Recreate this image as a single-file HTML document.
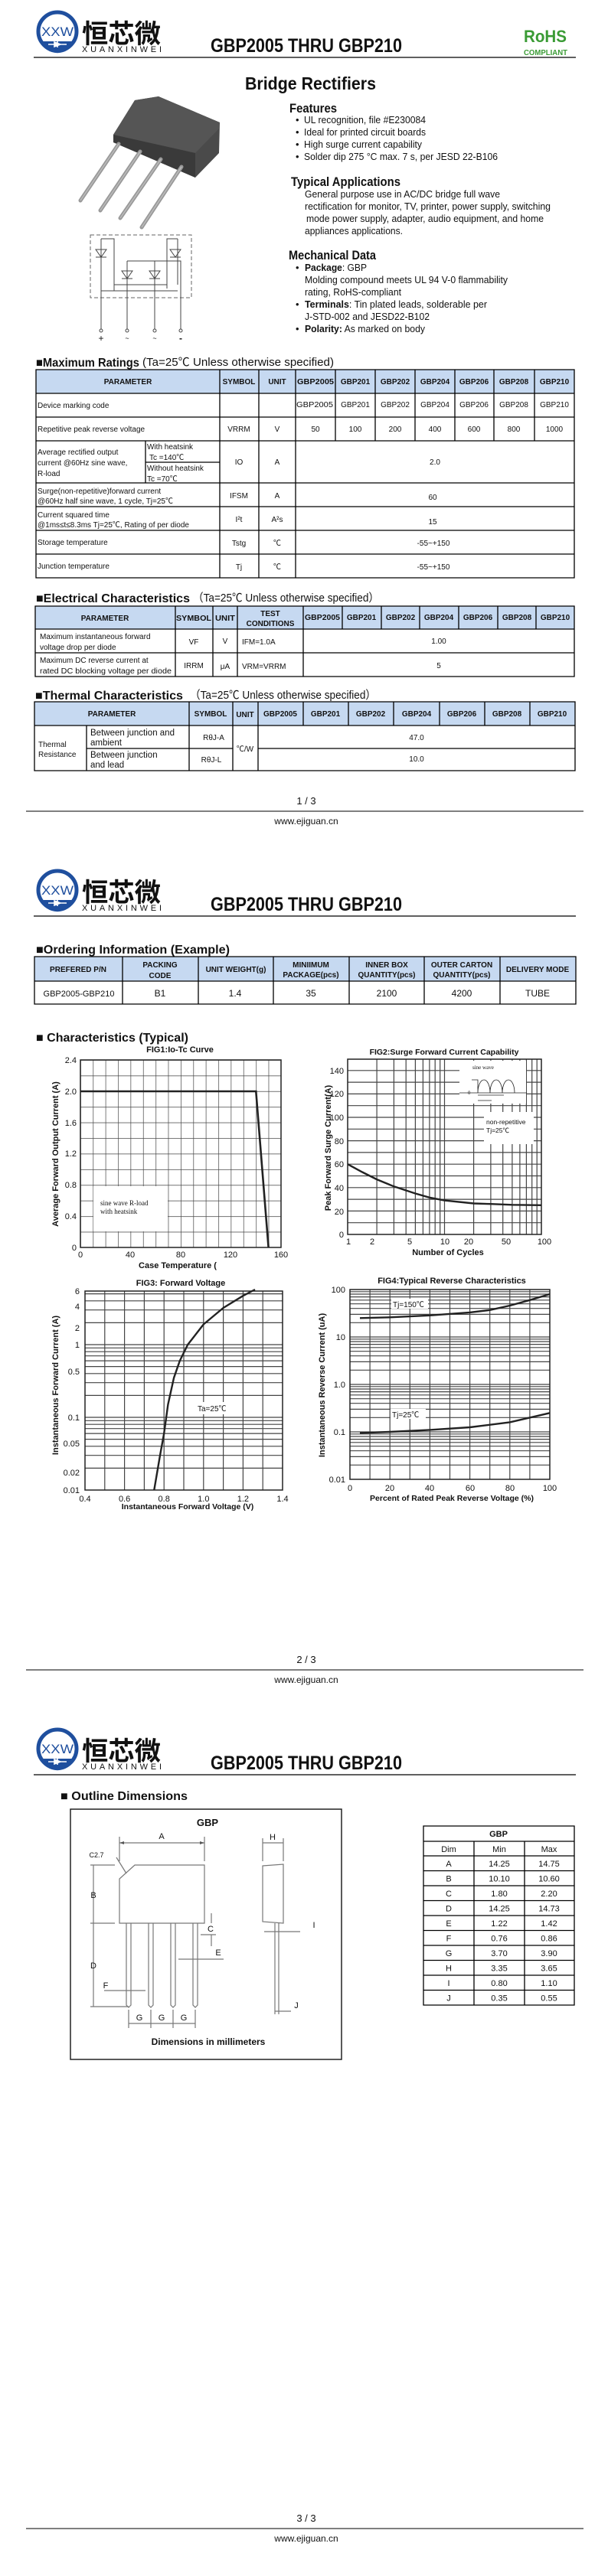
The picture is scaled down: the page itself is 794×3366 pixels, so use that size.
<!DOCTYPE html>
<html><head><meta charset="utf-8"><style>
html,body{margin:0;padding:0;background:#fff;}
svg{display:block}
text{font-family:"Liberation Sans","Noto Sans CJK SC",sans-serif;fill:#111}
.b{font-weight:bold}
.c{text-anchor:middle}
.r{text-anchor:end}
.t{font-size:10px}
.h{font-size:10px;font-weight:bold;text-anchor:middle}
.g{stroke:#444;stroke-width:1.2;fill:none}
.k{stroke:#000;stroke-width:1.3;fill:none}
.ax{font-size:11px}
.dw{stroke:#777;stroke-width:1.2;fill:none}
.ser{font-family:"Liberation Serif",serif}
</style></head><body>
<svg width="794" height="3366" viewBox="0 0 794 3366" xmlns="http://www.w3.org/2000/svg">
<defs>
<pattern id="g1" x="105" y="1385" width="16.375" height="20.417" patternUnits="userSpaceOnUse">
<path d="M0 0V20.417M0 0H16.375" stroke="#444" stroke-width="1.4" fill="none"/>
</pattern>
</defs>

<!-- ===== HEADER PAGE 1 ===== -->
<g>
<circle cx="75" cy="41" r="25" fill="none" stroke="#1f4f9e" stroke-width="5"/>
<path d="M52 54 A25 25 0 0 0 98 54 Z" fill="#1f4f9e"/>
<path d="M63 58H87M75 54V62M71 55L79 58L71 61Z" stroke="#fff" stroke-width="1.6" fill="#fff"/>
<text x="75" y="47" class="c" style="font-size:17px;fill:#1f4f9e" textLength="42" lengthAdjust="spacingAndGlyphs">XXW</text>
<text x="107" y="56" class="b" style="font-size:34px;font-family:'Noto Sans CJK SC',sans-serif" textLength="103" lengthAdjust="spacingAndGlyphs">恒芯微</text>
<text x="107" y="68" style="font-size:11px" textLength="104" lengthAdjust="spacing">XUANXINWEI</text>
<text x="275" y="68" class="b" style="font-size:25px" textLength="250" lengthAdjust="spacingAndGlyphs">GBP2005 THRU GBP210</text>
<text x="684" y="55" class="b" style="font-size:22px;fill:#3a9b35" textLength="56" lengthAdjust="spacingAndGlyphs">RoHS</text>
<text x="684" y="72" class="b" style="font-size:10px;fill:#3a9b35" textLength="57" lengthAdjust="spacingAndGlyphs">COMPLIANT</text>
<path d="M44 75H752" stroke="#000" stroke-width="1.2"/>
</g>

<text x="320" y="117" class="b" style="font-size:23px" textLength="171" lengthAdjust="spacingAndGlyphs">Bridge Rectifiers</text>

<!-- package drawing -->
<polygon points="176,131 207,126 287,160 286,200 255,232 148,186 148,176" fill="#4a4a4a"/>
<polygon points="148,176 176,131 207,126 287,160 286,168 255,200 148,176" fill="#555"/>
<polygon points="148,176 255,200 255,232 148,186" fill="#3a3a3a"/>
<g stroke="#999" stroke-width="5" stroke-linecap="round">
<path d="M155 188L105 262M183 198L131 275M210 208L157 285M237 218L185 297"/>
</g>
<g stroke="#bbb" stroke-width="1.5"><path d="M155 188L105 262M183 198L131 275M210 208L157 285M237 218L185 297"/></g>

<!-- schematic -->
<rect x="118" y="307" width="132" height="82" fill="none" stroke="#666" stroke-width="1" stroke-dasharray="5,3"/>
<g stroke="#444" stroke-width="1" fill="none">
<path d="M132 312H149V380M132 312V430M232 312H218V377M232 312V372M166 341H236V430M166 341V430M202 341V430M132 380H232M149 372H218"/>
<path d="M125 326H139L132 336Z M125 336H139 M222 326H236L229 336Z M222 336H236 M159 354H173L166 364Z M159 364H173 M195 354H209L202 364Z M195 364H209"/>
<circle cx="132" cy="432" r="2"/><circle cx="166" cy="432" r="2"/><circle cx="202" cy="432" r="2"/><circle cx="236" cy="432" r="2"/>
</g>
<text x="132" y="446" class="c" style="font-size:12px">+</text>
<text x="166" y="445" class="c" style="font-size:9px">~</text>
<text x="202" y="445" class="c" style="font-size:9px">~</text>
<text x="236" y="446" class="c b" style="font-size:12px">-</text>

<!-- features -->
<text x="378" y="147" class="b" style="font-size:17px" textLength="62" lengthAdjust="spacingAndGlyphs">Features</text>
<g style="font-size:13px">
<text x="386" y="161">•</text><text x="397" y="161" textLength="159" lengthAdjust="spacingAndGlyphs">UL recognition, file #E230084</text>
<text x="386" y="177">•</text><text x="397" y="177" textLength="159" lengthAdjust="spacingAndGlyphs">Ideal for printed circuit boards</text>
<text x="386" y="193">•</text><text x="397" y="193" textLength="154" lengthAdjust="spacingAndGlyphs">High surge current capability</text>
<text x="386" y="209">•</text><text x="397" y="209" textLength="253" lengthAdjust="spacingAndGlyphs">Solder dip 275 °C max. 7 s, per JESD 22-B106</text>
</g>
<text x="380" y="243" class="b" style="font-size:17px" textLength="143" lengthAdjust="spacingAndGlyphs">Typical Applications</text>
<g style="font-size:13px">
<text x="398" y="258" textLength="255" lengthAdjust="spacingAndGlyphs">General purpose use in AC/DC bridge full wave</text>
<text x="398" y="274" textLength="321" lengthAdjust="spacingAndGlyphs">rectification for monitor, TV, printer, power supply, switching</text>
<text x="400" y="290" textLength="310" lengthAdjust="spacingAndGlyphs">mode power supply, adapter, audio equipment, and home</text>
<text x="398" y="306" textLength="128" lengthAdjust="spacingAndGlyphs">appliances applications.</text>
</g>
<text x="377" y="339" class="b" style="font-size:17px" textLength="114" lengthAdjust="spacingAndGlyphs">Mechanical Data</text>
<g style="font-size:13px">
<text x="386" y="354">•</text><text x="398" y="354" textLength="81" lengthAdjust="spacingAndGlyphs"><tspan class="b">Package</tspan>: GBP</text>
<text x="398" y="370" textLength="265" lengthAdjust="spacingAndGlyphs">Molding compound meets UL 94 V-0 flammability</text>
<text x="398" y="386" textLength="126" lengthAdjust="spacingAndGlyphs">rating, RoHS-compliant</text>
<text x="386" y="402">•</text><text x="398" y="402" textLength="238" lengthAdjust="spacingAndGlyphs"><tspan class="b">Terminals</tspan>: Tin plated leads, solderable  per</text>
<text x="398" y="418" textLength="163" lengthAdjust="spacingAndGlyphs">J-STD-002 and JESD22-B102</text>
<text x="386" y="434">•</text><text x="398" y="434" textLength="157" lengthAdjust="spacingAndGlyphs"><tspan class="b">Polarity:</tspan> As marked on body</text>
</g>

<!-- ===== MAX RATINGS ===== -->
<text x="47" y="479" class="b" style="font-size:16px" textLength="135" lengthAdjust="spacingAndGlyphs">■Maximum Ratings</text>
<text x="186" y="478" style="font-size:15px" textLength="250" lengthAdjust="spacingAndGlyphs">(Ta=25℃ Unless otherwise specified)</text>
<rect x="47" y="483" width="703" height="31" fill="#c6d9f1"/>
<path class="k" d="M47 483H750V755H47Z M47 514H750M47 545H750M47 576H750M47 631H750M47 662H750M47 693H750M47 724H750 M190 604H287 M287 483V755M338 483V755M386 483V755 M438 483V576M490 483V576M542 483V576M594 483V576M645 483V576M698 483V576 M190 576V631"/>
<g class="h">
<text x="167" y="502">PARAMETER</text><text x="312" y="502">SYMBOL</text><text x="362" y="502">UNIT</text>
<text x="412" y="502" textLength="48" lengthAdjust="spacingAndGlyphs">GBP2005</text><text x="464" y="502">GBP201</text><text x="516" y="502">GBP202</text><text x="568" y="502">GBP204</text><text x="619" y="502">GBP206</text><text x="671" y="502">GBP208</text><text x="724" y="502">GBP210</text>
</g>
<g class="t">
<text x="49" y="533">Device marking code</text>
<g class="c"><text x="411" y="532" textLength="48" lengthAdjust="spacingAndGlyphs">GBP2005</text><text x="464" y="532">GBP201</text><text x="516" y="532">GBP202</text><text x="568" y="532">GBP204</text><text x="619" y="532">GBP206</text><text x="671" y="532">GBP208</text><text x="724" y="532">GBP210</text></g>
<text x="49" y="564">Repetitive peak reverse voltage</text>
<g class="c"><text x="312" y="564">VRRM</text><text x="362" y="564">V</text><text x="412" y="564">50</text><text x="464" y="564">100</text><text x="516" y="564">200</text><text x="568" y="564">400</text><text x="619" y="564">600</text><text x="671" y="564">800</text><text x="724" y="564">1000</text></g>
<text x="49" y="594">Average rectified output</text><text x="49" y="608">current @60Hz sine wave,</text><text x="49" y="622">R-load</text>
<text x="192" y="587">With heatsink</text><text x="195" y="601">Tc =140℃</text><text x="192" y="615">Without heatsink</text><text x="192" y="629">Tc =70℃</text>
<g class="c"><text x="312" y="607">IO</text><text x="362" y="607">A</text><text x="568" y="607">2.0</text></g>
<text x="49" y="645">Surge(non-repetitive)forward current</text><text x="49" y="658">@60Hz half sine wave, 1 cycle, Tj=25℃</text>
<g class="c"><text x="312" y="651">IFSM</text><text x="362" y="651">A</text><text x="565" y="653">60</text></g>
<text x="49" y="676">Current squared time</text><text x="49" y="689">@1ms≤t≤8.3ms Tj=25℃, Rating of per diode</text>
<g class="c"><text x="312" y="682">I²t</text><text x="362" y="682">A²s</text><text x="565" y="685">15</text></g>
<text x="49" y="712">Storage temperature</text>
<g class="c"><text x="312" y="713">Tstg</text><text x="362" y="713">℃</text><text x="566" y="713">-55~+150</text></g>
<text x="49" y="743">Junction temperature</text>
<g class="c"><text x="312" y="744">Tj</text><text x="362" y="744">℃</text><text x="566" y="744">-55~+150</text></g>
</g>

<!-- ===== ELECTRICAL ===== -->
<text x="47" y="787" class="b" style="font-size:16px" textLength="201" lengthAdjust="spacingAndGlyphs">■Electrical Characteristics</text>
<text x="252" y="786" style="font-size:15px" textLength="243" lengthAdjust="spacingAndGlyphs">（Ta=25℃ Unless otherwise specified）</text>
<rect x="46" y="792" width="704" height="30" fill="#c6d9f1"/>
<path class="k" d="M46 792H750V884H46Z M46 822H750M46 853H750 M229 792V884M278 792V884M310 792V884M396 792V884 M447 792V822M498 792V822M548 792V822M599 792V822M650 792V822M700 792V822"/>
<g class="h">
<text x="137" y="811">PARAMETER</text><text x="253" y="811" textLength="46" lengthAdjust="spacingAndGlyphs">SYMBOL</text><text x="294" y="811" textLength="26" lengthAdjust="spacingAndGlyphs">UNIT</text>
<text x="353" y="805">TEST</text><text x="353" y="818">CONDITIONS</text>
<text x="421" y="810" textLength="46" lengthAdjust="spacingAndGlyphs">GBP2005</text><text x="472" y="810">GBP201</text><text x="523" y="810">GBP202</text><text x="573" y="810">GBP204</text><text x="624" y="810">GBP206</text><text x="675" y="810">GBP208</text><text x="725" y="810">GBP210</text>
</g>
<g class="t">
<text x="52" y="835">Maximum instantaneous forward</text><text x="52" y="849">voltage drop per diode</text>
<g class="c"><text x="253" y="842">VF</text><text x="294" y="841">V</text><text x="573" y="841">1.00</text></g>
<text x="316" y="842">IFM=1.0A</text>
<text x="52" y="866">Maximum DC reverse current at</text><text x="52" y="880" textLength="172" lengthAdjust="spacingAndGlyphs">rated DC blocking voltage per diode</text>
<g class="c"><text x="253" y="873">IRRM</text><text x="294" y="874">μA</text><text x="573" y="873">5</text></g>
<text x="316" y="874">VRM=VRRM</text>
</g>

<!-- ===== THERMAL ===== -->
<text x="46" y="914" class="b" style="font-size:16px" textLength="193" lengthAdjust="spacingAndGlyphs">■Thermal Characteristics</text>
<text x="248" y="913" style="font-size:15px" textLength="243" lengthAdjust="spacingAndGlyphs">（Ta=25℃ Unless otherwise specified）</text>
<rect x="45" y="917" width="706" height="31" fill="#c6d9f1"/>
<path class="k" d="M45 917H751V1007H45Z M45 948H751 M113 978H304M337 978H751 M113 948V1007M247 917V1007M304 917V1007M337 917V1007 M396 917V948M455 917V948M514 917V948M574 917V948M633 917V948M692 917V948"/>
<g class="h">
<text x="146" y="936">PARAMETER</text><text x="275" y="936">SYMBOL</text><text x="320" y="937">UNIT</text>
<text x="366" y="936">GBP2005</text><text x="425" y="936">GBP201</text><text x="484" y="936">GBP202</text><text x="544" y="936">GBP204</text><text x="603" y="936">GBP206</text><text x="662" y="936">GBP208</text><text x="721" y="936">GBP210</text>
</g>
<g class="t">
<text x="50" y="976">Thermal</text><text x="50" y="989">Resistance</text>
<text x="118" y="961" style="font-size:11.5px">Between junction and</text><text x="118" y="974" style="font-size:11.5px">ambient</text>
<text x="118" y="990" style="font-size:11.5px">Between junction</text><text x="118" y="1003" style="font-size:11.5px">and lead</text>
<g class="c"><text x="279" y="967">RθJ-A</text><text x="276" y="996">RθJ-L</text><text x="320" y="982">℃/W</text><text x="544" y="967">47.0</text><text x="544" y="995">10.0</text></g>
</g>

<text x="400" y="1051" class="c" style="font-size:13px">1 / 3</text>
<path d="M34 1060H762" stroke="#555" stroke-width="1.5"/>
<text x="400" y="1077" class="c" style="font-size:12px">www.ejiguan.cn</text>

<!-- ===== PAGE 2 HEADER ===== -->
<g transform="translate(0,1122)">
<circle cx="75" cy="41" r="25" fill="none" stroke="#1f4f9e" stroke-width="5"/>
<path d="M52 54 A25 25 0 0 0 98 54 Z" fill="#1f4f9e"/>
<path d="M63 58H87M75 54V62M71 55L79 58L71 61Z" stroke="#fff" stroke-width="1.6" fill="#fff"/>
<text x="75" y="47" class="c" style="font-size:17px;fill:#1f4f9e" textLength="42" lengthAdjust="spacingAndGlyphs">XXW</text>
<text x="107" y="56" class="b" style="font-size:34px;font-family:'Noto Sans CJK SC',sans-serif" textLength="103" lengthAdjust="spacingAndGlyphs">恒芯微</text>
<text x="107" y="68" style="font-size:11px" textLength="104" lengthAdjust="spacing">XUANXINWEI</text>
<text x="275" y="68" class="b" style="font-size:25px" textLength="250" lengthAdjust="spacingAndGlyphs">GBP2005 THRU GBP210</text>
<path d="M44 75H752" stroke="#000" stroke-width="1.2"/>
</g>

<text x="47" y="1246" class="b" style="font-size:16px" textLength="253" lengthAdjust="spacingAndGlyphs">■Ordering Information (Example)</text>
<rect x="45" y="1250" width="707" height="32" fill="#c6d9f1"/>
<path class="k" d="M45 1250H752V1312H45Z M45 1282H752 M160 1250V1312M259 1250V1312M357 1250V1312M456 1250V1312M554 1250V1312M653 1250V1312"/>
<g class="h">
<text x="102" y="1270">PREFERED P/N</text>
<text x="209" y="1264">PACKING</text><text x="209" y="1278">CODE</text>
<text x="308" y="1270">UNIT WEIGHT(g)</text>
<text x="406" y="1264">MINIIMUM</text><text x="406" y="1277">PACKAGE(pcs)</text>
<text x="505" y="1264">INNER BOX</text><text x="505" y="1277">QUANTITY(pcs)</text>
<text x="603" y="1264">OUTER CARTON</text><text x="603" y="1277">QUANTITY(pcs)</text>
<text x="702" y="1270">DELIVERY MODE</text>
</g>
<g class="c" style="font-size:12px">
<text x="103" y="1302" style="font-size:11px">GBP2005-GBP210</text><text x="209" y="1302">B1</text><text x="307" y="1302">1.4</text><text x="406" y="1302">35</text><text x="505" y="1302">2100</text><text x="603" y="1302">4200</text><text x="702" y="1302">TUBE</text>
</g>
<text x="47" y="1361" class="b" style="font-size:16px" textLength="199" lengthAdjust="spacingAndGlyphs">■ Characteristics (Typical)</text>

<!-- FIG1 -->
<text x="235" y="1375" class="c b ax">FIG1:Io-Tc Curve</text>
<rect x="105" y="1385" width="262" height="245" fill="url(#g1)"/>
<rect x="105" y="1385" width="262" height="245" fill="none" stroke="#222" stroke-width="1.5"/>
<rect x="122" y="1550" width="97" height="59" fill="#fff"/>
<text x="131" y="1575" class="ser" style="font-size:9px">sine wave R-load</text>
<text x="131" y="1586" class="ser" style="font-size:9px">with heatsink</text>
<path d="M105 1426H334.3L350.6 1630" stroke="#222" stroke-width="2.6" fill="none"/>
<g class="ax r">
<text x="100" y="1389">2.4</text><text x="100" y="1430">2.0</text><text x="100" y="1471">1.6</text><text x="100" y="1511">1.2</text><text x="100" y="1552">0.8</text><text x="100" y="1593">0.4</text><text x="100" y="1634">0</text>
</g>
<g class="ax c">
<text x="105" y="1643">0</text><text x="170" y="1643">40</text><text x="236" y="1643">80</text><text x="301" y="1643">120</text><text x="367" y="1643">160</text>
</g>
<text x="232" y="1657" class="c b ax">Case Temperature (</text>
<text transform="translate(76,1508) rotate(-90)" class="c b ax">Average Forward Output Current (A)</text>

<!-- FIG2 -->
<text x="580" y="1378" class="c b" style="font-size:10.5px">FIG2:Surge Forward Current Capability</text>
<path class="g" d="M454 1597.7H707M454 1582.4H707M454 1567.1H707M454 1551.8H707M454 1536.5H707M454 1521.2H707M454 1505.9H707M454 1490.6H707M454 1475.3H707M454 1460H707M454 1444.7H707M454 1429.4H707M454 1414.1H707M454 1398.8H707
M492.1 1384V1613M514.4 1384V1613M530.2 1384V1613M542.4 1384V1613M552.4 1384V1613M560.9 1384V1613M568.2 1384V1613M574.7 1384V1613M580.5 1384V1613M618.6 1384V1613M640.9 1384V1613M656.7 1384V1613M668.9 1384V1613M678.9 1384V1613M687.4 1384V1613M694.7 1384V1613M701.2 1384V1613"/>
<rect x="600" y="1386" width="87" height="56" fill="#fff"/>
<rect x="632" y="1453" width="65" height="42" fill="#fff"/>
<text x="617" y="1397" class="ser" style="font-size:7px">sine  wave</text>
<path d="M600 1428H688M616 1411H624V1428M624 1428A8 17 0 0 1 640 1428A8 17 0 0 1 656 1428A8 17 0 0 1 672 1428M624 1431H658M624 1438H642" stroke="#222" stroke-width="0.8" fill="none"/>
<text x="611" y="1430" style="font-size:6px">0</text>
<text x="635" y="1469" style="font-size:8.5px">non-repetitive</text>
<text x="635" y="1480" style="font-size:8.5px">Tj=25℃</text>
<rect x="454" y="1384" width="253" height="229" fill="none" stroke="#222" stroke-width="1.5"/>
<path d="M454 1521.2L473 1531.5L492.1 1541.1L514.4 1550.3L542.4 1559.5L560.9 1564.8L580.5 1568.6L618.6 1572.5L640.9 1573.2L668.9 1574.3L707 1574.8" stroke="#222" stroke-width="2.4" fill="none"/>
<g class="ax r">
<text x="449" y="1617">0</text><text x="449" y="1587">20</text><text x="449" y="1556">40</text><text x="449" y="1525">60</text><text x="449" y="1495">80</text><text x="449" y="1464">100</text><text x="449" y="1433">120</text><text x="449" y="1403">140</text>
</g>
<g class="ax c">
<text x="455" y="1626">1</text><text x="486" y="1626">2</text><text x="535" y="1626">5</text><text x="581" y="1626">10</text><text x="612" y="1626">20</text><text x="661" y="1626">50</text><text x="711" y="1626">100</text>
</g>
<text x="585" y="1640" class="c b ax">Number of Cycles</text>
<text transform="translate(432,1500) rotate(-90)" class="c b ax">Peak Forward Surge Current(A)</text>

<!-- FIG3 -->
<text x="236" y="1680" class="c b ax">FIG3: Forward Voltage</text>
<path class="g" d="M111 1918.4H369M111 1901.7H369M111 1889.8H369M111 1880.6H369M111 1873.1H369M111 1866.7H369M111 1861.2H369M111 1856.3H369M111 1852H369M111 1823.4H369M111 1806.7H369M111 1794.8H369M111 1785.6H369M111 1778.1H369M111 1771.7H369M111 1766.2H369M111 1761.3H369M111 1757H369M111 1728.4H369M111 1711.7H369M111 1699.8H369M111 1690.6H369
M136.8 1687V1947M162.6 1687V1947M188.4 1687V1947M214.2 1687V1947M240 1687V1947M265.8 1687V1947M291.6 1687V1947M317.4 1687V1947M343.2 1687V1947"/>
<rect x="250" y="1832" width="60" height="16" fill="#fff"/>
<text x="258" y="1844" style="font-size:10px">Ta=25℃</text>
<rect x="111" y="1687" width="258" height="260" fill="none" stroke="#222" stroke-width="1.5"/>
<path d="M201.3 1947L209 1901.7L214.2 1873.1L219.4 1835.3L227.1 1800.3L234.8 1778.1L245.2 1757L265.8 1730.5L291.6 1709L317.4 1693.2L333 1685" stroke="#222" stroke-width="2.4" fill="none" stroke-linejoin="round"/>
<g class="ax r">
<text x="104" y="1691">6</text><text x="104" y="1711">4</text><text x="104" y="1739">2</text><text x="104" y="1761">1</text><text x="104" y="1796">0.5</text><text x="104" y="1856">0.1</text><text x="104" y="1890">0.05</text><text x="104" y="1928">0.02</text><text x="104" y="1951">0.01</text>
</g>
<g class="ax c">
<text x="111" y="1962">0.4</text><text x="162.6" y="1962">0.6</text><text x="214.2" y="1962">0.8</text><text x="265.8" y="1962">1.0</text><text x="317.4" y="1962">1.2</text><text x="369" y="1962">1.4</text>
</g>
<text x="245" y="1972" class="c b" style="font-size:10.5px">Instantaneous Forward Voltage (V)</text>
<text transform="translate(76,1810) rotate(-90)" class="c b ax">Instantaneous Forward Current (A)</text>

<!-- FIG4 -->
<text x="590" y="1677" class="c b ax">FIG4:Typical Reverse Characteristics</text>
<path class="g" d="M457 1728.3H718M457 1717.4H718M457 1709.7H718M457 1703.7H718M457 1698.8H718M457 1694.6H718M457 1691H718M457 1687.8H718M457 1747H718
M457 1790.3H718M457 1779.4H718M457 1771.7H718M457 1765.7H718M457 1760.8H718M457 1756.6H718M457 1753H718M457 1749.8H718M457 1809H718
M457 1852.3H718M457 1841.4H718M457 1833.7H718M457 1827.7H718M457 1822.8H718M457 1818.6H718M457 1815H718M457 1811.8H718M457 1871H718
M457 1914.3H718M457 1903.4H718M457 1895.7H718M457 1889.7H718M457 1884.8H718M457 1880.6H718M457 1877H718M457 1873.8H718
M483.1 1685V1933M509.2 1685V1933M535.3 1685V1933M561.4 1685V1933M587.5 1685V1933M613.6 1685V1933M639.7 1685V1933M665.8 1685V1933M691.9 1685V1933"/>
<rect x="511" y="1697" width="48" height="13" fill="#fff"/>
<text x="513" y="1708" style="font-size:10px">Tj=150℃</text>
<rect x="510" y="1841" width="46" height="13" fill="#fff"/>
<text x="512" y="1852" style="font-size:10px">Tj=25℃</text>
<rect x="457" y="1685" width="261" height="248" fill="none" stroke="#222" stroke-width="1.5"/>
<path d="M470 1722.3L509.2 1721.3L561.4 1718.8L613.6 1714.9L639.7 1711.8L665.8 1706L691.9 1698.8L718 1691" stroke="#222" stroke-width="2.4" fill="none"/>
<path d="M470 1872.4L509.2 1871L561.4 1868.4L613.6 1865L665.8 1858.4L718 1846.3" stroke="#222" stroke-width="2.4" fill="none"/>
<g class="ax r">
<text x="451" y="1689">100</text><text x="451" y="1751">10</text><text x="451" y="1813">1.0</text><text x="451" y="1875">0.1</text><text x="451" y="1937">0.01</text>
</g>
<g class="ax c">
<text x="457" y="1948">0</text><text x="509" y="1948">20</text><text x="561" y="1948">40</text><text x="614" y="1948">60</text><text x="666" y="1948">80</text><text x="718" y="1948">100</text>
</g>
<text x="590" y="1961" class="c b" style="font-size:10.5px">Percent of Rated Peak Reverse Voltage  (%)</text>
<text transform="translate(424,1810) rotate(-90)" class="c b ax">Instantaneous Reverse Current (uA)</text>

<text x="400" y="2173" class="c" style="font-size:13px">2 / 3</text>
<path d="M34 2182H762" stroke="#555" stroke-width="1.5"/>
<text x="400" y="2199" class="c" style="font-size:12px">www.ejiguan.cn</text>

<!-- ===== PAGE 3 HEADER ===== -->
<g transform="translate(0,2244)">
<circle cx="75" cy="41" r="25" fill="none" stroke="#1f4f9e" stroke-width="5"/>
<path d="M52 54 A25 25 0 0 0 98 54 Z" fill="#1f4f9e"/>
<path d="M63 58H87M75 54V62M71 55L79 58L71 61Z" stroke="#fff" stroke-width="1.6" fill="#fff"/>
<text x="75" y="47" class="c" style="font-size:17px;fill:#1f4f9e" textLength="42" lengthAdjust="spacingAndGlyphs">XXW</text>
<text x="107" y="56" class="b" style="font-size:34px;font-family:'Noto Sans CJK SC',sans-serif" textLength="103" lengthAdjust="spacingAndGlyphs">恒芯微</text>
<text x="107" y="68" style="font-size:11px" textLength="104" lengthAdjust="spacing">XUANXINWEI</text>
<text x="275" y="68" class="b" style="font-size:25px" textLength="250" lengthAdjust="spacingAndGlyphs">GBP2005 THRU GBP210</text>
<path d="M44 75H752" stroke="#000" stroke-width="1.2"/>
</g>

<text x="79" y="2352" class="b" style="font-size:16px" textLength="166" lengthAdjust="spacingAndGlyphs">■ Outline Dimensions</text>
<rect x="92" y="2364" width="354" height="327" fill="none" stroke="#222" stroke-width="1.5"/>
<text x="271" y="2386" class="c b" style="font-size:13px">GBP</text>
<!-- front view -->
<path class="dw" d="M176 2437H267V2513H156V2455Z"/>
<path class="dw" d="M156 2432V2400M267 2432V2400M156 2408H267M118 2437H150M118 2513H150M122 2437V2622M118 2622H168M152 2427L165 2448"/>
<path d="M156 2408l6 -2v4zM267 2408l-6 -2v4z" fill="#555"/>
<g class="dw" stroke-width="1.3">
<path d="M165 2513V2620l3 3l3 -3V2513M194 2513V2620l3 3l3 -3V2513M223 2513V2620l3 3l3 -3V2513M252 2513V2620l3 3l3 -3V2513"/>
<path d="M168 2626V2650M197 2626V2650M226 2626V2650M255 2626V2650M168 2644H255 M233 2560H292M276 2513V2500M276 2528V2543M262 2528H282M136 2601H190"/>
</g>
<g style="font-size:11px" class="c">
<text x="211" y="2403">A</text><text x="126" y="2427" style="font-size:9px">C2.7</text><text x="122" y="2480">B</text><text x="122" y="2572">D</text>
<text x="275" y="2524">C</text><text x="285" y="2555">E</text><text x="138" y="2598">F</text>
<text x="182" y="2640">G</text><text x="211" y="2640">G</text><text x="240" y="2640">G</text>
<text x="356" y="2404">H</text><text x="410" y="2519">I</text><text x="387" y="2624">J</text>
</g>
<!-- side view -->
<path class="dw" d="M343 2438L370 2436V2513L343 2511Z M359 2513V2622M364 2513V2622M343 2408H370M343 2402V2432M370 2402V2432M345 2524H392M359 2628H380M359 2622V2632M364 2622V2632"/>
<text x="272" y="2672" class="c b" style="font-size:12px">Dimensions in millimeters</text>

<!-- dim table -->
<path class="k" d="M553 2386H750V2620H553Z M553 2406H750M553 2425H750M553 2444.5H750M553 2464H750M553 2483.5H750M553 2503H750M553 2522.5H750M553 2542H750M553 2561.5H750M553 2581H750M553 2600.5H750 M619 2406V2620M685 2406V2620"/>
<text x="651" y="2400" class="h" style="font-size:11px">GBP</text>
<g class="c" style="font-size:11px">
<text x="586" y="2420">Dim</text><text x="652" y="2420">Min</text><text x="717" y="2420">Max</text>
<text x="586" y="2439">A</text><text x="652" y="2439">14.25</text><text x="717" y="2439">14.75</text>
<text x="586" y="2458.5">B</text><text x="652" y="2458.5">10.10</text><text x="717" y="2458.5">10.60</text>
<text x="586" y="2478">C</text><text x="652" y="2478">1.80</text><text x="717" y="2478">2.20</text>
<text x="586" y="2497.5">D</text><text x="652" y="2497.5">14.25</text><text x="717" y="2497.5">14.73</text>
<text x="586" y="2517">E</text><text x="652" y="2517">1.22</text><text x="717" y="2517">1.42</text>
<text x="586" y="2536.5">F</text><text x="652" y="2536.5">0.76</text><text x="717" y="2536.5">0.86</text>
<text x="586" y="2556">G</text><text x="652" y="2556">3.70</text><text x="717" y="2556">3.90</text>
<text x="586" y="2575.5">H</text><text x="652" y="2575.5">3.35</text><text x="717" y="2575.5">3.65</text>
<text x="586" y="2595">I</text><text x="652" y="2595">0.80</text><text x="717" y="2595">1.10</text>
<text x="586" y="2614.5">J</text><text x="652" y="2614.5">0.35</text><text x="717" y="2614.5">0.55</text>
</g>

<text x="400" y="3295" class="c" style="font-size:13px">3 / 3</text>
<path d="M34 3304H762" stroke="#555" stroke-width="1.5"/>
<text x="400" y="3321" class="c" style="font-size:12px">www.ejiguan.cn</text>
</svg>
</body></html>
